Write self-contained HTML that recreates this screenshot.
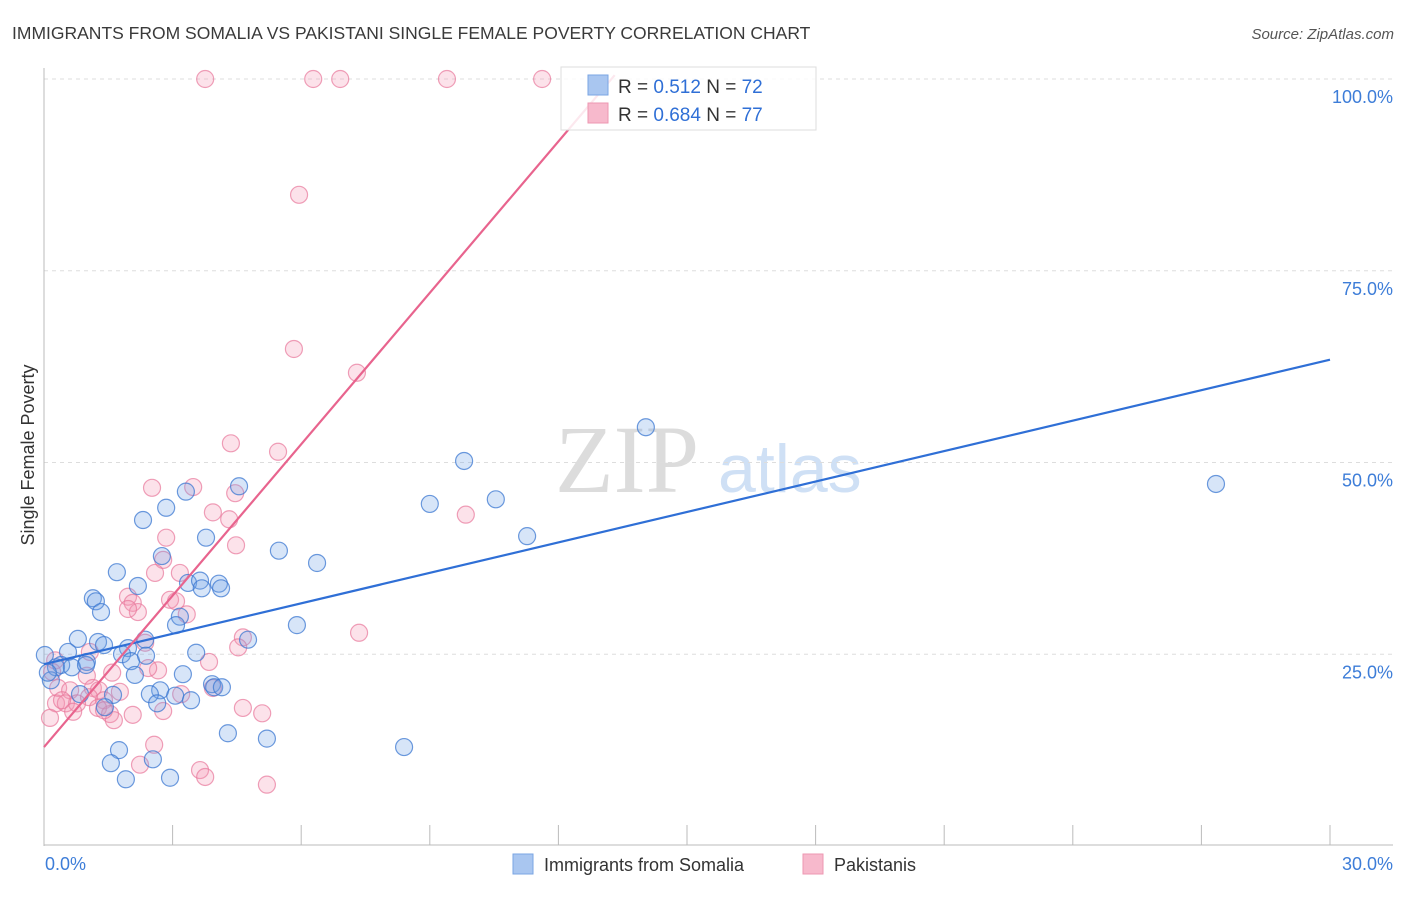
<!DOCTYPE html>
<html><head><meta charset="utf-8"><style>
body{margin:0;background:#fff;font-family:"Liberation Sans",sans-serif}
</style></head><body>
<svg width="1406" height="892" xmlns="http://www.w3.org/2000/svg" font-family="Liberation Sans, sans-serif">
<text x="12" y="39" font-size="17.5" fill="#3a3a3a">IMMIGRANTS FROM SOMALIA VS PAKISTANI SINGLE FEMALE POVERTY CORRELATION CHART</text>
<text x="1394" y="39" font-size="15" fill="#555" font-style="italic" text-anchor="end">Source: ZipAtlas.com</text>
<g>
<text x="555" y="492" font-size="96" font-family="Liberation Serif, serif" fill="#dcdcdc">ZIP</text>
<text x="718" y="492" font-size="68" fill="#cfe0f5">atlas</text>
</g>
<g id="grid"></g>
<g id="axes"></g>
<g id="pts"></g>
<g id="lines"></g>
<g>
<rect x="561" y="67" width="255" height="63" fill="#fff" fill-opacity="0.85" stroke="#ddd"/>
<rect x="588" y="75" width="20" height="20" fill="#a9c6f0" stroke="#7aa5e3"/>
<rect x="588" y="103" width="20" height="20" fill="#f7b9cc" stroke="#ee97b2"/>
<text x="618" y="93" font-size="19" fill="#333">R = <tspan fill="#2f6fd6"> 0.512</tspan>   N = <tspan fill="#2f6fd6">72</tspan></text>
<text x="618" y="121" font-size="19" fill="#333">R = <tspan fill="#2f6fd6">0.684</tspan>   N = <tspan fill="#2f6fd6">77</tspan></text>
</g>
<text transform="translate(34,455) rotate(-90)" font-size="18" fill="#333" text-anchor="middle">Single Female Poverty</text>
<text x="45" y="870" font-size="18" fill="#3d7dd8">0.0%</text>
<text x="1393" y="870" font-size="18" fill="#3d7dd8" text-anchor="end">30.0%</text>
<g>
<rect x="513" y="854" width="20" height="20" fill="#a9c6f0" stroke="#7aa5e3"/>
<text x="544" y="871" font-size="18" fill="#333">Immigrants from Somalia</text>
<rect x="803" y="854" width="20" height="20" fill="#f7b9cc" stroke="#ee97b2"/>
<text x="834" y="871" font-size="18" fill="#333">Pakistanis</text>
</g>
</svg>
<script>
const yTicks=[25,50,75,100];
const yTickLabels=["25.0%","50.0%","75.0%","100.0%"];
const xTicks=[0,3,6,9,12,15,18,21,24,27,30];
const somaliaX=[14.04,9.8,27.34,10.54,9.0,11.27,4.55,3.31,2.85,2.31,3.78,5.48,6.37,2.75,1.70,2.19,3.36,3.64,3.68,4.08,4.13,1.14,1.21,1.33,3.17,3.08,5.90,0.79,1.26,1.40,2.36,1.96,4.76,3.55,1.82,0.56,0.02,0.4,1.0,0.28,0.65,0.98,2.03,2.38,2.12,3.24,2.71,3.92,3.97,4.15,2.47,3.06,3.43,2.64,0.84,1.61,1.42,4.29,5.20,8.40,1.75,1.56,2.54,1.91,2.94,0.16,0.09];
const somaliaY=[54.6,50.2,47.2,45.2,44.6,40.4,46.9,46.2,44.1,42.5,40.2,38.5,36.9,37.8,35.7,33.9,34.3,34.6,33.6,34.2,33.6,32.3,31.9,30.5,29.9,28.8,28.8,27.0,26.6,26.2,26.9,25.8,26.9,25.2,25.0,25.3,24.9,23.6,24.0,23.3,23.3,23.6,24.1,24.8,22.3,22.4,20.3,21.1,20.7,20.7,19.8,19.6,19.0,18.6,19.8,19.7,18.1,14.7,14.0,12.9,12.5,10.8,11.3,8.7,8.9,21.6,22.6];
const pakX=[3.76,6.28,6.91,9.40,11.62,5.95,5.83,7.30,4.36,5.46,2.52,3.48,4.46,9.84,3.94,4.32,2.85,4.48,2.78,2.59,3.17,1.96,2.07,2.19,2.94,3.08,3.33,1.96,7.35,4.64,4.53,2.36,1.07,3.85,2.66,2.43,1.59,1.0,0.26,0.19,0.33,0.61,1.14,1.28,1.77,3.20,3.94,1.05,0.28,0.51,0.77,0.42,1.40,1.26,0.68,1.54,2.07,2.78,4.64,5.09,1.63,1.40,2.57,2.24,3.64,3.76,5.20,0.14];
const pakY=[100,100,100,100,100,84.9,64.8,61.7,52.5,51.4,46.7,46.8,46.0,43.2,43.5,42.6,40.2,39.2,37.3,35.6,35.6,32.5,31.7,30.5,32.1,31.9,30.2,30.9,27.8,27.2,25.9,26.5,25.3,24.0,22.9,23.2,22.6,22.2,24.2,22.7,20.6,20.3,20.6,20.3,20.1,19.8,20.6,19.4,18.6,18.6,18.6,19.0,19.0,18.0,17.5,17.2,17.1,17.6,18.0,17.3,16.4,17.7,13.2,10.6,9.9,9.0,8.0,16.7];
const somaliaTrend=[23.7,63.4];
const pakTrend=[12.9,6.58];
const NS="http://www.w3.org/2000/svg";
const X=v=>44+v*(1286/30);
const Y=v=>846-v*7.67;
function mk(t,a,p){const e=document.createElementNS(NS,t);for(const k in a)e.setAttribute(k,a[k]);p.appendChild(e);return e;}
const grid=document.getElementById('grid');
yTicks.forEach((t,i)=>{
 const l=mk('line',{x1:44,x2:1393,y1:Y(t),y2:Y(t),stroke:'#ddd','stroke-dasharray':'4,4'},grid);
 
 
 const tx=mk('text',{x:1393,y:Y(t)+24,'font-size':18,fill:'#3d7dd8','text-anchor':'end'},grid);
 tx.textContent=yTickLabels[i];
 
 
});
const axes=document.getElementById('axes');
const ya=mk('line',{x1:44,x2:44,y1:68,y2:846,stroke:'#bbb'},axes);


const xa=mk('line',{x1:44,x2:1393,y1:845,y2:845,stroke:'#bbb'},axes);


xTicks.forEach(t=>{
 if(t===0)return;
 const l=mk('line',{x1:X(t),x2:X(t),y1:825,y2:845,stroke:'#bbb'},axes);
 
 
});
const pts=document.getElementById('pts');
pakX.forEach((v,i)=>{
 const c=mk('circle',{cx:X(v),cy:Y(pakY[i]),r:8.5,fill:'rgba(244,150,180,0.28)',stroke:'rgba(232,120,155,0.7)','stroke-width':1.2},pts);
 
 
});
somaliaX.forEach((v,i)=>{
 const c=mk('circle',{cx:X(v),cy:Y(somaliaY[i]),r:8.5,fill:'rgba(110,160,230,0.28)',stroke:'rgba(60,120,210,0.75)','stroke-width':1.2},pts);
 
 
});
const lines=document.getElementById('lines');
const bl=mk('line',{x1:X(0),y1:Y(somaliaTrend[0]),x2:X(30),y2:Y(somaliaTrend[1]),stroke:'#2f6fd6','stroke-width':2.2},lines);


const xe=(100.5-pakTrend[0])/pakTrend[1];
const pl=mk('line',{x1:X(0),y1:Y(pakTrend[0]),x2:X(xe),y2:Y(pakTrend[0]+pakTrend[1]*xe),stroke:'#e8648e','stroke-width':2.2},lines);


</script>
</body></html>
